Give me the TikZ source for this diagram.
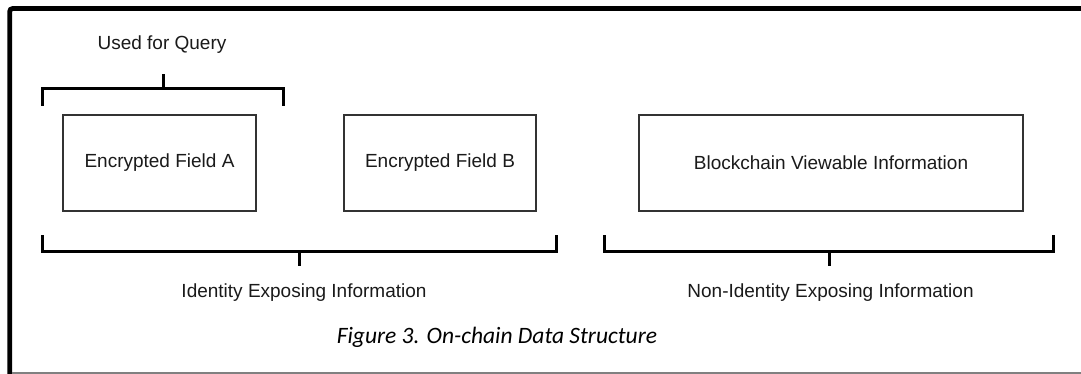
\documentclass[tikz,border=0pt]{standalone}
\usepackage{fontspec}
\setmainfont{Liberation Sans}
\newfontfamily\capfont{Carlito}
\definecolor{boxline}{HTML}{333333}
\definecolor{txt}{HTML}{1A1A1A}
\begin{document}
\begin{tikzpicture}[x=1pt,y=-1pt,
  fieldbox/.style={draw=boxline,line width=1.3pt,fill=white,inner sep=0pt,
    font=\fontsize{19}{22}\selectfont,text=txt},
  lbl/.style={font=\fontsize{19}{22}\selectfont,text=txt,anchor=base,inner sep=0pt},
  brace/.style={draw=black,line width=3pt,line cap=butt,line join=miter}]
\useasboundingbox (0,0) rectangle (1081,374);
\fill[white] (0,0) rectangle (1081,374);
% frame
\draw[line width=4.8pt,rounded corners=3pt] (9.7,380) -- (9.7,8.5) -- (1090,8.5);
\draw[draw=gray,line width=1.5pt] (12,372.8) -- (1081,372.8);
% boxes
\node[fieldbox,minimum width=193pt,minimum height=96pt] (fa) at (159.5,163) {Encrypted Field A};
\node[fieldbox,minimum width=192pt,minimum height=96pt] (fb) at (440,163) {Encrypted Field B};
\node[fieldbox,minimum width=384pt,minimum height=96pt] (bc) at (831,163) {Blockchain Viewable Information};
% labels
\node[lbl] (query) at (162,49.5) {Used for Query};
\node[lbl] (idexp) at (304,297) {Identity Exposing Information};
\node[lbl] (nonid) at (830.5,297) {Non-Identity Exposing Information};
\node[anchor=base,inner sep=0pt,text=black,font=\capfont\itshape\fontsize{23.5}{26}\selectfont] (cap) at (497,343) {Figure 3. On-chain Data Structure};
% bracket coordinates
\coordinate (qt) at (163,74);
\coordinate (qm) at (163,89);
\coordinate (it) at (299,266);
\coordinate (im) at (299,251);
\coordinate (nt) at (829,266);
\coordinate (nm) at (829,251);
% brackets
\draw[brace] (42,106) -- (42,89) -- (283,89) -- (283,106);
\draw[brace] (qm) -- (qt);
\draw[brace] (42,235) -- (42,251) -- (556,251) -- (556,235);
\draw[brace] (im) -- (it);
\draw[brace] (604,235) -- (604,251) -- (1053,251) -- (1053,235);
\draw[brace] (nm) -- (nt);
\end{tikzpicture}
\end{document}
